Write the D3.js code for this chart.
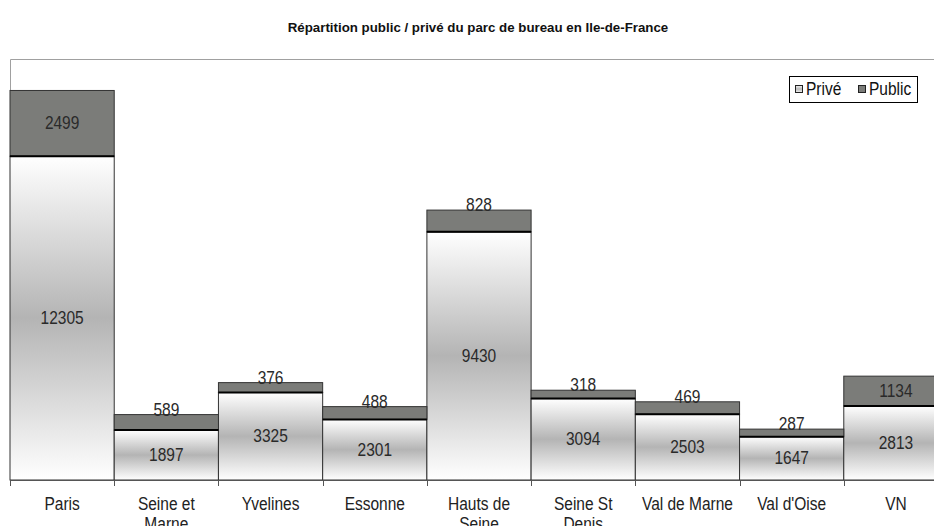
<!DOCTYPE html>
<html>
<head>
<meta charset="utf-8">
<script src="https://cdn.jsdelivr.net/npm/d3@7"></script>
<style>
  body { margin: 0; background: #fff; }
  svg { display: block; font-family: "Liberation Sans", Arial, sans-serif; }
</style>
</head>
<body>
<div id="chart"></div>
<script>
// data
var departements = ["Paris", "Seine et Marne", "Yvelines", "Essonne", "Hauts de Seine",
  "Seine St Denis", "Val de Marne", "Val d'Oise", "VN"];
var prive = [12305, 1897, 3325, 2301, 9430, 3094, 2503, 1647, 2813];
var publicVals = [2499, 589, 376, 488, 828, 318, 469, 287, 1134];
var seriesNames = ["Privé", "Public"];

var svgWidth = 934;
var svgHeight = 526;

// text in the original is a bit taller than wide
var stretch = 1.14;
function place(x, y) {
  return `translate(${x},${y}) scale(1,${stretch})`;
}

var svg = d3.select("#chart")
  .append("svg")
  .attr("width", svgWidth)
  .attr("height", svgHeight);

// gradient for the private bars (white - grey - white)
var defs = svg.append("defs");
var grad = defs.append("linearGradient")
  .attr("id", "priveGrad")
  .attr("x1", 0).attr("y1", 0).attr("x2", 0).attr("y2", 1);
grad.append("stop").attr("offset", "0%").attr("stop-color", "#ffffff");
grad.append("stop").attr("offset", "50%").attr("stop-color", "#b4b4b4");
grad.append("stop").attr("offset", "100%").attr("stop-color", "#ffffff");

var legGrad = defs.append("linearGradient")
  .attr("id", "legGrad")
  .attr("x1", 0).attr("y1", 0).attr("x2", 0).attr("y2", 1);
legGrad.append("stop").attr("offset", "0%").attr("stop-color", "#f4f4f4");
legGrad.append("stop").attr("offset", "50%").attr("stop-color", "#b8b8b8");
legGrad.append("stop").attr("offset", "100%").attr("stop-color", "#f4f4f4");

var xScale = d3.scaleBand()
  .domain(departements)
  .range([10, 948])
  .padding(0);

var yScale = d3.scaleLinear()
  .domain([0, 16000])
  .range([480, 59]);

// title
svg.append("text")
  .attr("transform", "translate(478,32)")
  .attr("text-anchor", "middle")
  .attr("font-size", "13.3px")
  .attr("font-weight", "bold")
  .attr("fill", "#111")
  .text("Répartition public / privé du parc de bureau en Ile-de-France");

// plot area border (top + left)
svg.append("path")
  .attr("d", `M10.5,480 V59.5 H934`)
  .attr("fill", "none")
  .attr("stroke", "#a0a0a0")
  .attr("stroke-width", 1);

var rows = departements.map(function(d, i) {
  return { dep: d, prive: prive[i], pub: publicVals[i] };
});

var bars = svg.append("g");

// private segments
bars.selectAll(".prive")
  .data(rows)
  .enter()
  .append("rect")
  .attr("class", "prive")
  .attr("x", d => xScale(d.dep))
  .attr("y", d => yScale(d.prive))
  .attr("width", xScale.bandwidth())
  .attr("height", d => yScale(0) - yScale(d.prive))
  .attr("fill", "url(#priveGrad)")
  .attr("stroke", "#333")
  .attr("stroke-width", 1);

// public segments
bars.selectAll(".public")
  .data(rows)
  .enter()
  .append("rect")
  .attr("class", "public")
  .attr("x", d => xScale(d.dep))
  .attr("y", d => yScale(d.prive + d.pub))
  .attr("width", xScale.bandwidth())
  .attr("height", d => yScale(d.prive) - yScale(d.prive + d.pub))
  .attr("fill", "#7b7c79")
  .attr("stroke", "#333")
  .attr("stroke-width", 1);

// thick line between segments
bars.selectAll(".sep")
  .data(rows)
  .enter()
  .append("line")
  .attr("x1", d => xScale(d.dep))
  .attr("x2", d => xScale(d.dep) + xScale.bandwidth())
  .attr("y1", d => yScale(d.prive))
  .attr("y2", d => yScale(d.prive))
  .attr("stroke", "#000")
  .attr("stroke-width", 2);

// x axis
var xAxis = svg.append("g")
  .attr("transform", "translate(0,480)");
xAxis.append("line")
  .attr("x1", 10).attr("x2", 934)
  .attr("y1", 0.5).attr("y2", 0.5)
  .attr("stroke", "#555");
xAxis.selectAll(".tick")
  .data(departements)
  .enter()
  .append("line")
  .attr("x1", d => Math.round(xScale(d)) + 0.5)
  .attr("x2", d => Math.round(xScale(d)) + 0.5)
  .attr("y1", 0).attr("y2", 6)
  .attr("stroke", "#555");

// category labels, wrapped
xAxis.selectAll(".lbl")
  .data(departements)
  .enter()
  .append("text")
  .attr("text-anchor", "middle")
  .attr("font-size", "15.5px")
  .attr("fill", "#222")
  .each(function(d) {
    var t = d3.select(this);
    var cx = xScale(d) + xScale.bandwidth() / 2;
    var words = d.split(" ");
    var lines = [];
    var line = [];
    words.forEach(function(w) {
      line.push(w);
      t.text(line.join(" "));
      if (t.node().getComputedTextLength() > 100 && line.length > 1) {
        line.pop();
        lines.push(line.join(" "));
        line = [w];
      }
    });
    lines.push(line.join(" "));
    t.text(null);
    t.attr("transform", place(cx, 30));
    lines.forEach(function(l, k) {
      t.append("tspan")
        .attr("x", 0)
        .attr("y", k * 17.5)
        .text(l);
    });
  });

// value labels
var labels = svg.append("g")
  .attr("font-size", "15.5px")
  .attr("fill", "#2a2a2a")
  .attr("text-anchor", "middle");

labels.selectAll(".vp")
  .data(rows)
  .enter()
  .append("text")
  .attr("transform", d => place(xScale(d.dep) + xScale.bandwidth() / 2,
    (yScale(0) + yScale(d.prive)) / 2 + 6))
  .text(d => d.prive);

labels.selectAll(".vpub")
  .data(rows)
  .enter()
  .append("text")
  .attr("transform", function(d) {
    var top = yScale(d.prive + d.pub);
    var bottom = yScale(d.prive);
    var y = (bottom - top > 25) ? (top + bottom) / 2 + 6 : top + 1;
    return place(xScale(d.dep) + xScale.bandwidth() / 2, y);
  })
  .text(d => d.pub);

// legend
var legend = svg.append("g")
  .attr("transform", "translate(789,76)");
legend.append("rect")
  .attr("x", 0.5).attr("y", 0.5)
  .attr("width", 128).attr("height", 26)
  .attr("fill", "#fff")
  .attr("stroke", "#000");
var legFills = ["url(#legGrad)", "#7b7c79"];
var legX = [6, 69];
seriesNames.forEach(function(name, i) {
  legend.append("rect")
    .attr("x", legX[i] + 0.5).attr("y", 9.5)
    .attr("width", 7).attr("height", 7)
    .attr("fill", legFills[i])
    .attr("stroke", "#222");
  legend.append("text")
    .attr("transform", place(legX[i] + 11, 19))
    .attr("font-size", "15.5px")
    .attr("fill", "#111")
    .text(name);
});
</script>
</body>
</html>
